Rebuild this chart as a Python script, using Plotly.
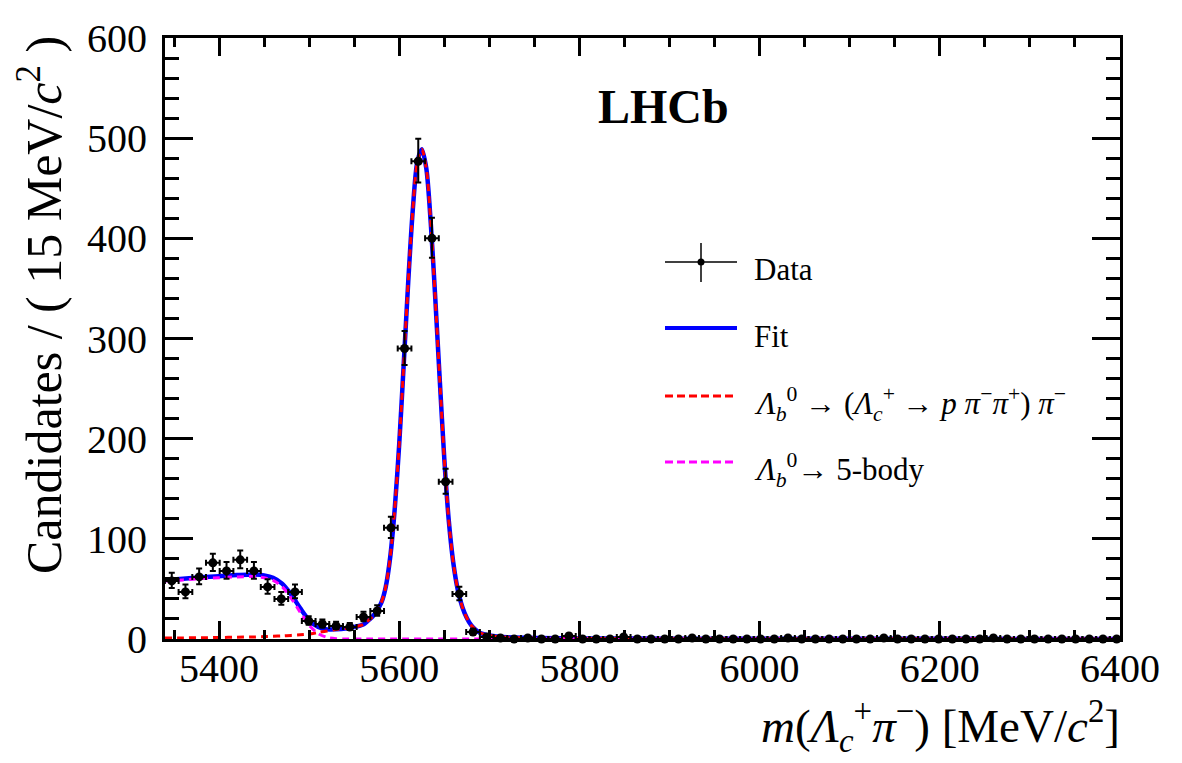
import numpy as np
import plotly.graph_objects as go

# ---------------- data ----------------
mass = [5347.5, 5362.7, 5377.9, 5393.1, 5408.3, 5423.5, 5438.7, 5453.9, 5469.1, 5484.3,
        5499.5, 5514.7, 5529.9, 5545.1, 5560.3, 5575.5, 5590.7, 5605.9, 5621.1, 5636.3,
        5651.5, 5666.7, 5681.9, 5697.1, 5712.3, 5727.5, 5742.7, 5757.9, 5773.1, 5788.3,
        5803.5, 5818.7, 5833.9, 5849.1, 5864.3, 5879.5, 5894.7, 5909.9, 5925.1, 5940.3,
        5955.5, 5970.7, 5985.9, 6001.1, 6016.3, 6031.5, 6046.7, 6061.9, 6077.1, 6092.3,
        6107.5, 6122.7, 6137.9, 6153.1, 6168.3, 6183.5, 6198.7, 6213.9, 6229.1, 6244.3,
        6259.5, 6274.7, 6289.9, 6305.1, 6320.3, 6335.5, 6350.7, 6365.9, 6381.1, 6396.3]
counts = [58, 47, 62, 76, 68, 79, 68, 52, 40, 47,
          18, 15, 13, 12, 22, 28, 111, 290, 477, 400,
          157, 45, 7, 2, 1, 0, 1, 0, 0, 3,
          0, 0, 0, 2, 0, 0, 0, 0, 1, 0,
          0, 0, 0, 0, 0, 1, 0, 0, 0, 0,
          0, 0, 1, 0, 0, 0, 0, 0, 0, 0,
          1, 0, 0, 0, 0, 0, 0, 0, 0, 0]
BIN_HALF_WIDTH = 7.6

fit_x = [5340, 5360, 5380, 5400, 5420, 5440, 5450, 5460, 5470, 5480,
         5490, 5500, 5510, 5520, 5530, 5540, 5550, 5560, 5565, 5570,
         5575, 5580, 5585, 5590, 5595, 5600, 5605, 5610, 5615, 5620,
         5625, 5630, 5635, 5640, 5645, 5650, 5655, 5660, 5665, 5670,
         5675, 5680, 5685, 5690, 5700, 5710, 5720, 5750, 5800, 5900,
         6000, 6100, 6200, 6300, 6400]
fit_total = [59.0, 60.1, 61.6, 62.7, 63.8, 64.4, 63.5, 61.2, 55.3, 44.5,
             30.9, 18.8, 11.9, 9.6, 9.85, 10.55, 12.0, 14.5, 18, 22,
             28, 36, 52, 82, 130, 195, 275, 357, 428, 476,
             489, 470, 415, 340, 258, 180, 118, 76, 49, 32,
             21, 13.5, 9, 6, 3.5, 2.3, 1.7, 1.0, 0.6, 0.35,
             0.25, 0.2, 0.15, 0.12, 0.1]
fit_signal = [1.0, 1.1, 1.3, 1.5, 1.8, 2.1, 2.4, 2.7, 3.1, 3.6,
              4.2, 5.0, 6.5, 8.0, 9.5, 10.5, 12.0, 14.5, 18, 22,
              28, 36, 52, 82, 130, 195, 275, 357, 428, 476,
              489, 470, 415, 340, 258, 180, 118, 76, 49, 32,
              21, 13.5, 9, 6, 3.5, 2.3, 1.7, 1.0, 0.6, 0.35,
              0.25, 0.2, 0.15, 0.12, 0.1]
fit_5body = [58.0, 59.0, 60.3, 61.2, 62.0, 62.3, 61.1, 58.5, 52.2, 40.9,
             26.7, 13.8, 5.4, 1.6, 0.35, 0.05, 0, 0, 0, 0,
             0, 0, 0, 0, 0, 0, 0, 0, 0, 0,
             0, 0, 0, 0, 0, 0, 0, 0, 0, 0,
             0, 0, 0, 0, 0, 0, 0, 0, 0, 0,
             0, 0, 0, 0, 0]

x_ticks = [5400, 5600, 5800, 6000, 6200, 6400]
y_ticks = [0, 100, 200, 300, 400, 500, 600]

# Poisson-like asymmetric errors derived from the counts
n = np.array(counts, dtype=float)
err_up = np.sqrt(n + 0.25) + 0.5
err_dn = np.where(n > 0, np.sqrt(n + 0.25) - 0.5, 0.0)

FONT = "Liberation Serif, Times New Roman, Times, serif"
W, H = 1182, 763
L, R, T, B = 165, 62, 38, 124
PW, PH = W - L - R, H - T - B


def px(xp):
    return (xp - L) / PW


def py(yp):
    return (H - B - yp) / PH


fig = go.Figure()
line_common = dict(shape="spline", smoothing=0.8)
fig.add_trace(go.Scatter(x=fit_x, y=fit_total, mode="lines", showlegend=False,
                         line=dict(color="#0000ff", width=4.5, **line_common)))
fig.add_trace(go.Scatter(x=fit_x, y=fit_signal, mode="lines", showlegend=False,
                         line=dict(color="#ff0000", width=3, dash="7px,5px", **line_common)))
fig.add_trace(go.Scatter(x=fit_x, y=fit_5body, mode="lines", showlegend=False,
                         line=dict(color="#ff00ff", width=3, dash="7px,5px", **line_common)))
fig.add_trace(go.Scatter(
    x=mass, y=counts, mode="markers", showlegend=False, cliponaxis=False,
    marker=dict(color="black", size=9),
    error_y=dict(type="data", symmetric=False, array=err_up, arrayminus=err_dn,
                 color="black", thickness=2, width=3),
    error_x=dict(type="constant", value=BIN_HALF_WIDTH, color="black", thickness=2, width=3),
))

# ---------------- manual legend (paper coordinates) ----------------
shapes = []
lx0, lx1 = 665, 737
shapes.append(dict(type="line", xref="paper", yref="paper", x0=px(lx0), x1=px(lx1),
                   y0=py(262), y1=py(262), line=dict(color="black", width=1.5)))
shapes.append(dict(type="line", xref="paper", yref="paper", x0=px(701), x1=px(701),
                   y0=py(243), y1=py(282), line=dict(color="black", width=1.5)))
shapes.append(dict(type="circle", xref="paper", yref="paper", x0=px(697.5), x1=px(704.5),
                   y0=py(265.5), y1=py(258.5), fillcolor="black", line=dict(color="black", width=0)))
shapes.append(dict(type="line", xref="paper", yref="paper", x0=px(lx0), x1=px(lx1),
                   y0=py(328), y1=py(328), line=dict(color="#0000ff", width=4)))
shapes.append(dict(type="line", xref="paper", yref="paper", x0=px(lx0), x1=px(lx1),
                   y0=py(396), y1=py(396), line=dict(color="#ff0000", width=3, dash="8px,4px")))
shapes.append(dict(type="line", xref="paper", yref="paper", x0=px(lx0), x1=px(lx1),
                   y0=py(462), y1=py(462), line=dict(color="#ff00ff", width=3, dash="8px,4px")))

LEG = 31
annotations = [
    dict(text="Data", x=px(752), y=py(269)),
    dict(text="Fit", x=px(752), y=py(336)),
    dict(text="<i>Λ</i><sub><i>b</i></sub><sup>0</sup> → (<i>Λ</i><sub><i>c</i></sub><sup>+</sup> → <i>p</i> <i>π</i><sup>−</sup><i>π</i><sup>+</sup>) <i>π</i><sup>−</sup>",
         x=px(752), y=py(404)),
    dict(text="<i>Λ</i><sub><i>b</i></sub><sup>0</sup>→ 5-body", x=px(752), y=py(470)),
]
for a in annotations:
    a.update(xref="paper", yref="paper", xanchor="left", yanchor="middle", showarrow=False,
             font=dict(family=FONT, size=LEG, color="black"))

annotations.append(dict(text="<b>LHCb</b>", x=px(663), y=py(106), xref="paper", yref="paper",
                        xanchor="center", yanchor="middle", showarrow=False,
                        font=dict(family=FONT, size=48, color="black")))
annotations.append(dict(text="<i>m</i>(<i>Λ</i><sub><i>c</i></sub><sup>+</sup><i>π</i><sup>−</sup>) [MeV/<i>c</i><sup>2</sup>]",
                        x=px(1122), y=py(726), xref="paper", yref="paper",
                        xanchor="right", yanchor="middle", showarrow=False,
                        font=dict(family=FONT, size=47, color="black")))
annotations.append(dict(text="Candidates / ( 15 MeV/<i>c</i><sup>2</sup> )",
                        x=px(40), y=py(305), xref="paper", yref="paper", textangle=-90,
                        xanchor="center", yanchor="middle", showarrow=False,
                        font=dict(family=FONT, size=50, color="black")))

axis_common = dict(showline=True, linewidth=3, linecolor="black", mirror="ticks",
                   ticks="inside", tickcolor="black", tickwidth=2.5, showgrid=False,
                   zeroline=False, tickfont=dict(family=FONT, size=40, color="black"))

fig.update_layout(
    width=W, height=H, margin=dict(l=L, r=R, t=T, b=B),
    paper_bgcolor="white", plot_bgcolor="white",
    font=dict(family=FONT, color="black"),
    shapes=shapes, annotations=annotations, showlegend=False,
    xaxis=dict(range=[5340, 6400], tickmode="array", tickvals=x_ticks,
               ticktext=[str(v) for v in x_ticks], ticklen=18, ticklabelstandoff=-8,
               minor=dict(dtick=50, tick0=5400, ticklen=9, tickwidth=2.5, tickcolor="black",
                          ticks="inside", showgrid=False),
               **axis_common),
    yaxis=dict(range=[0, 600], tickmode="array", tickvals=y_ticks,
               ticktext=[str(v) for v in y_ticks], ticklen=28, ticklabelstandoff=7,
               minor=dict(dtick=20, tick0=0, ticklen=14, tickwidth=2.5, tickcolor="black",
                          ticks="inside", showgrid=False),
               **axis_common),
)

fig.write_html("out.html")
